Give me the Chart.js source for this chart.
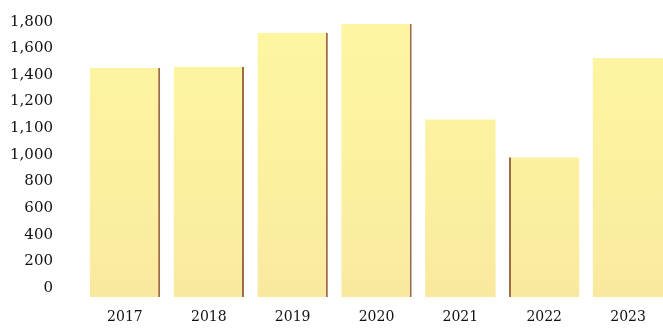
<!DOCTYPE html>
<html>
<head>
<meta charset="utf-8">
<script src="https://cdn.jsdelivr.net/npm/chart.js@4.4.0/dist/chart.umd.min.js"></script>
<style>
  html, body { margin: 0; padding: 0; background: #fff; overflow: hidden; }
</style>
</head>
<body>
<canvas id="grafica" width="672" height="328"></canvas>
<script>
// datos
let anios = ["2017", "2018", "2019", "2020", "2021", "2022", "2023"];
let valores = [1550, 1555, 1785, 1845, 1200, 945, 1615];
let etiquetasY = ["0", "200", "400", "600", "800", "1,000", "1,100", "1,200", "1,400", "1,600", "1,800"];
// borde oscuro de cada barra (derecha / izquierda)
let bordes = [
  { right: 2 }, { right: 2 }, { right: 2 }, { right: 2 }, 0, { left: 2 }, 0
];

var canvas = document.getElementById("grafica");

function relleno(context) {
  let area = context.chart.chartArea;
  if (!area) return "#fcf09e";
  let g = context.chart.ctx.createLinearGradient(0, area.top, 0, area.bottom);
  g.addColorStop(0, "#fdf6a2");
  g.addColorStop(0.6, "#fcf0a0");
  g.addColorStop(1, "#f9e9a0");
  return g;
}

var chart = new Chart(canvas, {
  type: "bar",
  data: {
    labels: anios,
    datasets: [
      {
        data: valores,
        backgroundColor: relleno,
        borderColor: "#9c6c46",
        borderWidth: bordes,
        borderSkipped: false,
        barPercentage: 0.84,
        categoryPercentage: 1,
      },
    ],
  },
  options: {
    responsive: false,
    animation: false,
    layout: { padding: { top: 4, right: 2, bottom: 2, left: 0 } },
    plugins: {
      legend: { display: false },
      tooltip: { enabled: false },
    },
    scales: {
      x: {
        grid: { display: false, drawTicks: false },
        border: { display: false },
        afterFit: (s) => { s.height = 29; },
        ticks: {
          color: "#111",
          padding: 12,
          font: { family: "DejaVu Serif", size: 14 },
          maxRotation: 0,
        },
      },
      y: {
        min: 0,
        max: 1980,
        grid: { display: false, drawTicks: false },
        border: { display: false },
        afterFit: (s) => {
          s.width = 83;
          // el padding de las etiquetas no debe empujar el area
          s.paddingTop = 0;
          s.paddingBottom = 0;
        },
        ticks: {
          stepSize: 180,
          padding: 30,
          labelOffset: -9,
          color: "#111",
          font: { family: "DejaVu Serif", size: 15 },
          callback: (v, i) => etiquetasY[i] || "",
        },
      },
    },
  },
});
</script>
</body>
</html>
